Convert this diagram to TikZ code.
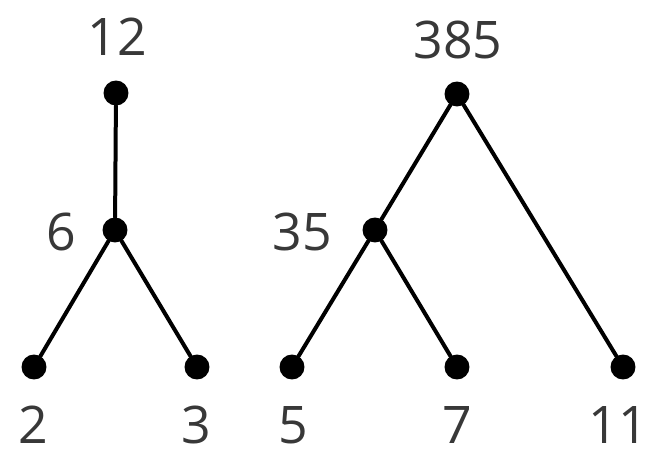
\documentclass[tikz,border=0pt]{standalone}
\usepackage{fontspec}
\setmainfont{Open Sans}
\begin{document}
\begin{tikzpicture}[x=0.02cm, y=-0.02cm, line join=round, line cap=round,
        point/.style={circle, fill=black, inner sep=0pt, minimum size=0.5cm},
        nombre/.style={text=black!78, inner sep=0pt, font=\fontsize{29.5}{35}\selectfont}]
    \useasboundingbox (0,0) rectangle (654,453);

    % premier arbre
    \node[point] (n12) at (116,93) {};
    \node[point] (n6) at (115,230) {};
    \node[point] (n2) at (34,367) {};
    \node[point] (n3) at (197,367) {};

    % second arbre
    \node[point] (n385) at (457,94) {};
    \node[point] (n35) at (375,230) {};
    \node[point] (n5) at (292,367) {};
    \node[point] (n7) at (457,367) {};
    \node[point] (n11) at (623,367) {};

    \foreach \a/\b in {n12/n6, n6/n2, n6/n3, n385/n35, n385/n11, n35/n5, n35/n7} {
        \draw[line width=0.08cm] (\a) -- (\b);
    }

    \node[nombre] (t12) at (117,37) {12};
    \node[nombre] (t6) at (61,232) {6};
    \node[nombre] (t2) at (33,425) {2};
    \node[nombre] (t3) at (196,425) {3};
    \node[nombre] (t385) at (458,40) {385};
    \node[nombre] (t35) at (302,232) {35};
    \node[nombre] (t5) at (293,425) {5};
    \node[nombre] (t7) at (457,425) {7};
    \node[nombre] (t11) at (618,425) {11};
\end{tikzpicture}
\end{document}
